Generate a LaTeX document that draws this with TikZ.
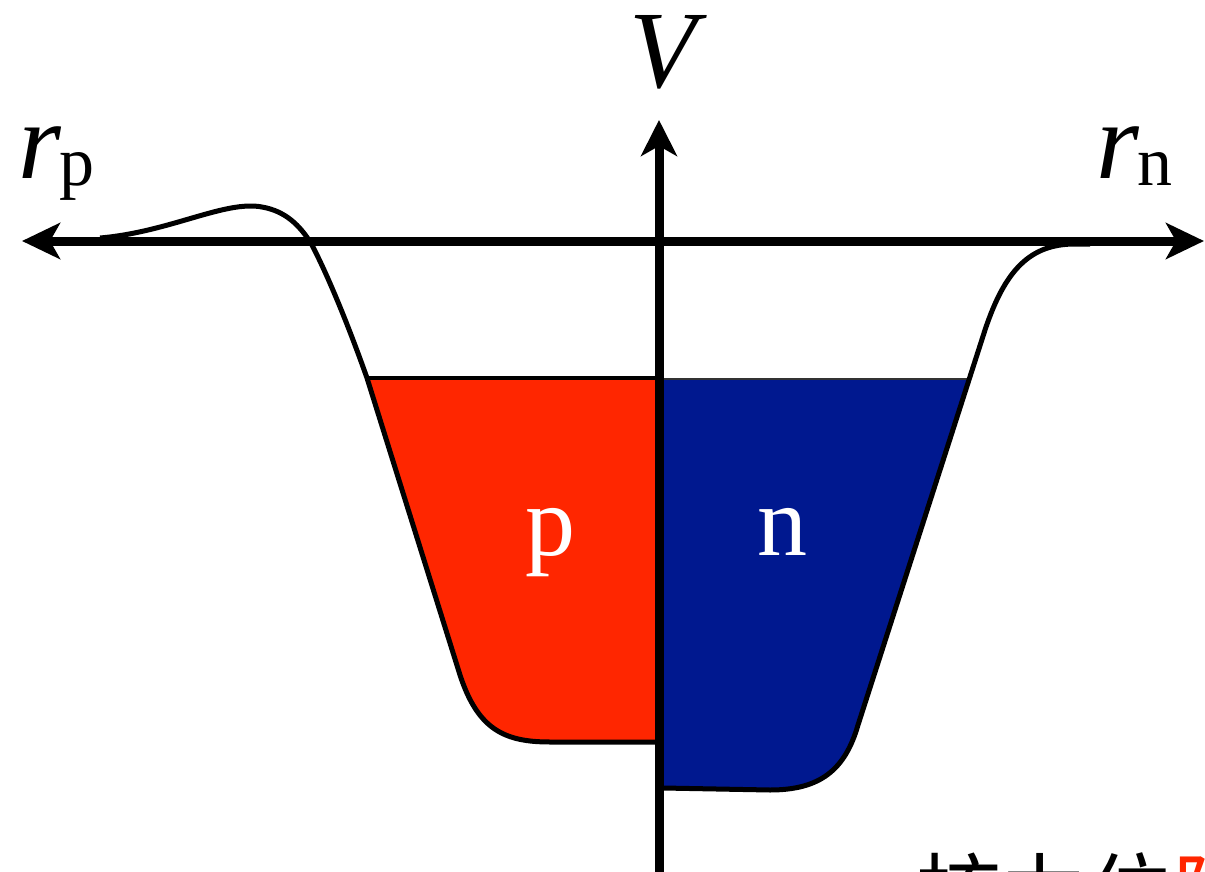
\documentclass[tikz,border=0pt]{standalone}
\usepackage{fontspec}
\setmainfont{Liberation Serif}
\newfontfamily\cjk{Noto Sans CJK SC}
\usetikzlibrary{arrows.meta}
\definecolor{wellred}{RGB}{255,38,0}
\definecolor{wellblue}{RGB}{0,24,143}
\begin{document}
\begin{tikzpicture}[x=0.5pt,y=-0.5pt,
  axis/.style={line width=4.5pt},
  curve/.style={line width=2.5pt,line join=round},
  lbl/.style={inner sep=0pt,font=\fontsize{55}{55}\selectfont}]
\useasboundingbox (0,0) rectangle (1205,872);
% fills
\fill[wellred] (367,378) -- (460,675) .. controls (478,730) and (505,742) .. (550,742) -- (657,742) -- (657,378) -- cycle;
\fill[wellblue] (663,380) -- (968,380) -- (858,725) .. controls (845,770) and (820,790) .. (770,790) -- (663,788) -- cycle;
% top surface lines
\coordinate (tl) at (367,378);
\coordinate (tm) at (657,378);
\coordinate (tm2) at (661,379);
\coordinate (tr) at (968,379);
\draw[line width=1.6pt] (tl) -- (tm);
\draw[line width=0.7pt,black!80] (tm2) -- (tr);
% potential curve
\draw[curve] (100,238) .. controls (170,232) and (225,200) .. (262,207)
  .. controls (285,211) and (300,225) .. (312,245)
  .. controls (330,280) and (350,330) .. (367,378)
  -- (460,675) .. controls (478,730) and (505,742) .. (550,742) -- (657,742);
\draw[curve] (663,788) -- (770,790) .. controls (820,790) and (845,770) .. (858,725)
  -- (985,330) .. controls (1005,270) and (1030,244) .. (1075,244) -- (1090,244);
% axes
\coordinate (xl) at (22,241);
\coordinate (xr) at (1204,241);
\coordinate (yb) at (659,885);
\coordinate (yt) at (659,120);
\draw[axis,{Stealth[length=19pt,width=18pt,inset=5pt]}-{Stealth[length=19pt,width=18pt,inset=5pt]}] (xl) -- (xr);
\draw[axis,-{Stealth[length=18pt,width=18pt,inset=5pt]}] (yb) -- (yt);
% labels
\node[lbl,anchor=base] (V) at (663,88) {\itshape V};
\node[lbl,anchor=base west] (rp) at (18,178) {\itshape r\hspace{-1pt}\raisebox{-3.5pt}{\fontsize{35}{35}\selectfont\upshape p}};
\node[lbl,anchor=base west] (rn) at (1096,178) {\itshape r\hspace{-1pt}\raisebox{-3.5pt}{\fontsize{35}{35}\selectfont\upshape n}};
\node[inner sep=0pt,anchor=base,text=white,font=\fontsize{50}{50}\selectfont] (p) at (550,555) {p};
\node[inner sep=0pt,anchor=base,text=white,font=\fontsize{50}{50}\selectfont] (n) at (782,555) {n};
\node[inner sep=0pt,anchor=base west,font=\cjk\fontsize{43}{43}\selectfont] (cap) at (915,925) {核力位\textcolor{wellred}{阱}};
\end{tikzpicture}
\end{document}
